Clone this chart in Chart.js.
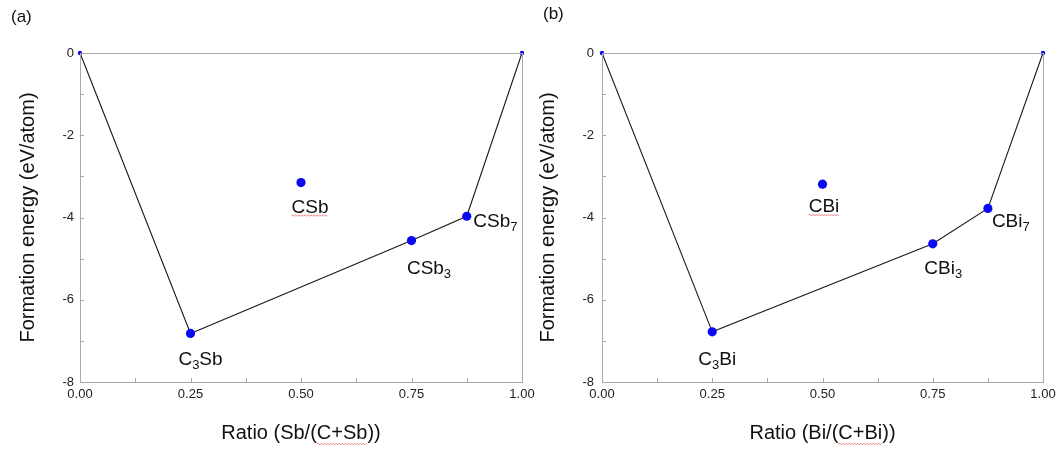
<!DOCTYPE html>
<html><head><meta charset="utf-8">
<script src="https://cdn.jsdelivr.net/npm/chart.js@4.4.0/dist/chart.umd.min.js"></script>
<style>
html,body{margin:0;padding:0;background:#fff;}
#wrap{position:relative;width:1058px;height:450px;overflow:hidden;background:#fff;}
canvas{position:absolute;top:0;}
</style></head><body>
<div id="wrap">
<canvas id="cA" width="545" height="450" style="left:0px"></canvas>
<canvas id="cB" width="529" height="450" style="left:529px"></canvas>
</div>
<script>
// ---------- data ----------
const hullRatioA   = [0, 0.25, 0.75, 0.875, 1];
const hullEnergyA  = [0, -6.82, -4.56, -3.97, 0];
const hullLabelsA  = ['', 'C_3Sb', 'CSb_3', 'CSb_7', ''];
const offRatioA    = [0.5];
const offEnergyA   = [-3.15];
const offLabelsA   = ['CSb'];

const hullRatioB   = [0, 0.25, 0.75, 0.875, 1];
const hullEnergyB  = [0, -6.78, -4.64, -3.78, 0];
const hullLabelsB  = ['', 'C_3Bi', 'CBi_3', 'CBi_7', ''];
const offRatioB    = [0.5];
const offEnergyB   = [-3.19];
const offLabelsB   = ['CBi'];

const xTitleA = 'Ratio (Sb/(C+Sb))';
const xTitleB = 'Ratio (Bi/(C+Bi))';
const yTitle  = 'Formation energy (eV/atom)';
const panelA  = '(a)';
const panelB  = '(b)';

// ---------- styles ----------
const FONT = '"Liberation Sans", Arial, sans-serif';
const AXIS_GRAY = '#a9a9a9';
const BLUE = '#0a0af0';

// label placement (pixel offsets from the point): [dx, dyBaseline, align, underline]
const labelStyleA = {
  'C_3Sb': [10, 32, 'center', false],
  'CSb':   [9, 30, 'center', true],
  'CSb_3': [17.5, 33, 'center', false],
  'CSb_7': [6.5, 11, 'left', false]
};
const labelStyleB = {
  'C_3Bi': [5, 33, 'center', false],
  'CBi':   [1.5, 28, 'center', true],
  'CBi_3': [10.5, 30, 'center', false],
  'CBi_7': [4, 19, 'left', false]
};

function parseSeg(t) {
  const segs = [];
  let i = 0, cur = '';
  while (i < t.length) {
    if (t[i] === '_') { if (cur) segs.push([cur, false]); cur=''; segs.push([t[i+1], true]); i += 2; }
    else { cur += t[i]; i++; }
  }
  if (cur) segs.push([cur, false]);
  return segs;
}
function wavy(ctx, x0, x1, y) {
  ctx.save();
  ctx.strokeStyle = 'rgba(230,80,80,0.85)';
  ctx.lineWidth = 0.8;
  ctx.beginPath();
  let up = true;
  ctx.moveTo(x0, y);
  for (let x = x0 + 1.5; x <= x1; x += 1.5) { ctx.lineTo(x, up ? y - 0.8 : y + 0.8); up = !up; }
  ctx.stroke();
  ctx.restore();
}
function drawSubText(ctx, text, x, y, align, underline) {
  const segs = parseSeg(text);
  const main = '19px ' + FONT, sub = '13px ' + FONT;
  let w = 0;
  segs.forEach(s => { ctx.font = s[1] ? sub : main; w += ctx.measureText(s[0]).width; });
  let cx = align === 'center' ? x - w / 2 : x;
  const start = cx;
  ctx.textAlign = 'left';
  ctx.textBaseline = 'alphabetic';
  ctx.fillStyle = '#111';
  segs.forEach(s => {
    ctx.font = s[1] ? sub : main;
    ctx.fillText(s[0], cx, s[1] ? y + 4 : y);
    cx += ctx.measureText(s[0]).width;
  });
  if (underline) wavy(ctx, start, start + w, y + 3);
}

function makePlugin(labelStyle, panelText, panelPos, xTitle, underlineWord) {
  return {
    id: 'decor',
    afterDraw(chart) {
      const ctx = chart.ctx;
      const a = chart.chartArea;
      const xs = chart.scales.x, ys = chart.scales.y;
      ctx.save();
      // frame
      ctx.strokeStyle = AXIS_GRAY;
      ctx.lineWidth = 1;
      ctx.strokeRect(Math.round(a.left) + 0.5, Math.round(a.top) + 0.5,
                     Math.round(a.right - a.left) - 0.0, Math.round(a.bottom - a.top) - 0.0);
      // inward ticks
      ctx.beginPath();
      xs.ticks.forEach(t => {
        const px = Math.round(xs.getPixelForValue(t.value)) + 0.5;
        ctx.moveTo(px, a.bottom); ctx.lineTo(px, a.bottom - 4);
      });
      ys.ticks.forEach(t => {
        const py = Math.round(ys.getPixelForValue(t.value)) + 0.5;
        ctx.moveTo(a.left, py); ctx.lineTo(a.left + 4, py);
      });
      ctx.stroke();
      // redraw points on top of frame
      chart.data.datasets.forEach((ds, di) => {
        const meta = chart.getDatasetMeta(di);
        meta.data.forEach((el, i) => {
          const lab = ds.labelsText[i];
          if (!lab) return;
          const st = labelStyle[lab];
          drawSubText(ctx, lab, el.x + st[0], el.y + st[1], st[2], st[3]);
        });
      });
      // panel label
      ctx.font = '17px ' + FONT;
      ctx.fillStyle = '#111';
      ctx.textAlign = 'left';
      ctx.textBaseline = 'alphabetic';
      ctx.fillText(panelText, panelPos[0], panelPos[1]);
      // spell-check style underline in x title
      ctx.font = '20px ' + FONT;
      const full = ctx.measureText(xTitle).width;
      const idx = xTitle.indexOf(underlineWord);
      const pre = ctx.measureText(xTitle.slice(0, idx)).width;
      const ww = ctx.measureText(underlineWord).width;
      const cx = (xs.left + xs.right) / 2;
      const x0 = cx - full / 2 + pre;
      wavy(ctx, x0, x0 + ww, 444);
      ctx.restore();
    }
  };
}

function buildChart(id, hr, he, hl, orr, oe, ol, xTitle, opts) {
  const hullData = hr.map((r, i) => ({x: r, y: he[i]}));
  const offData = orr.map((r, i) => ({x: r, y: oe[i]}));
  return new Chart(document.getElementById(id), {
    type: 'scatter',
    data: {
      datasets: [
        {
          data: hullData, labelsText: hl, showLine: true,
          borderColor: '#1a1a1a', borderWidth: 1.1,
          pointRadius: ctx => (ctx.dataIndex === 0 || ctx.dataIndex === hr.length - 1) ? 2.2 : 4.6,
          pointBackgroundColor: BLUE, pointBorderWidth: 0, pointHoverRadius: 4.6,
          clip: false
        },
        {
          data: offData, labelsText: ol, showLine: false,
          pointRadius: 4.6, pointBackgroundColor: BLUE, pointBorderWidth: 0,
          clip: false
        }
      ]
    },
    options: {
      responsive: false,
      devicePixelRatio: 1,
      animation: false,
      events: [],
      layout: { padding: { left: 0, top: 53, right: opts.padRight, bottom: 0 } },
      plugins: { legend: { display: false }, tooltip: { enabled: false } },
      scales: {
        x: {
          type: 'linear', min: 0, max: 1,
          grid: { display: false, drawTicks: false },
          border: { display: false },
          ticks: {
            stepSize: 0.125, autoSkip: false, maxRotation: 0, padding: 5,
            color: '#222', font: { family: FONT, size: 13 },
            callback: v => Math.abs(v * 4 - Math.round(v * 4)) < 1e-9 ? v.toFixed(2) : ''
          },
          title: { display: true, text: xTitle, color: '#111',
                   font: { family: FONT, size: 20 }, padding: { top: 0, bottom: 5 } },
          afterFit: s => { s.height = 68; s.paddingLeft = 0; s.paddingRight = 0; }
        },
        y: {
          type: 'linear', min: -8, max: 0,
          grid: { display: false, drawTicks: false },
          border: { display: false },
          ticks: {
            stepSize: 1, autoSkip: false, padding: opts.yPad,
            color: '#222', font: { family: FONT, size: 13 },
            callback: v => (Math.round(v) % 2 === 0) ? String(v) : ''
          },
          title: { display: true, text: yTitle, color: '#111',
                   font: { family: FONT, size: 20 }, padding: { top: opts.yTitlePad, bottom: 0 } },
          afterFit: s => { s.width = opts.yWidth; s.paddingTop = 0; s.paddingBottom = 0; }
        }
      }
    },
    plugins: [makePlugin(opts.labelStyle, opts.panel, opts.panelPos, xTitle, opts.uw)]
  });
}

buildChart('cA', hullRatioA, hullEnergyA, hullLabelsA, offRatioA, offEnergyA, offLabelsA, xTitleA,
  { padRight: 23, yWidth: 80, yPad: 6, yTitlePad: 16.5, labelStyle: labelStyleA,
    panel: panelA, panelPos: [11, 22], uw: 'C+Sb' });
buildChart('cB', hullRatioB, hullEnergyB, hullLabelsB, offRatioB, offEnergyB, offLabelsB, xTitleB,
  { padRight: 15, yWidth: 73, yPad: 8, yTitlePad: 7.5, labelStyle: labelStyleB,
    panel: panelB, panelPos: [14, 19], uw: 'C+Bi' });
</script>
</body></html>
